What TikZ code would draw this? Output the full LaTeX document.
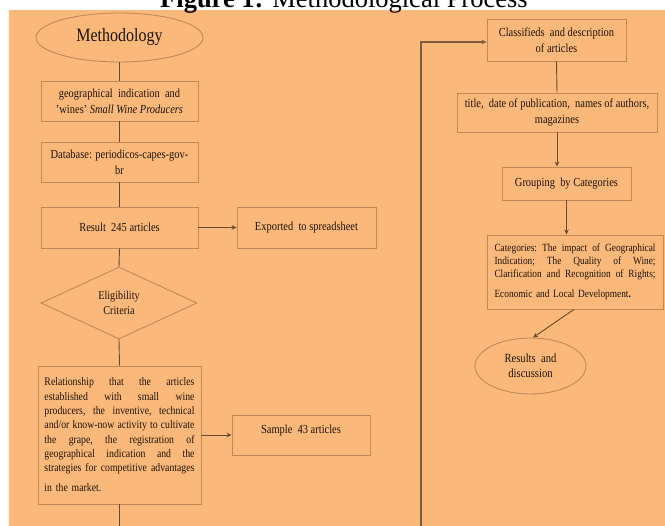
\documentclass[tikz,border=0pt]{standalone}
\usepackage{fontspec}
\setmainfont{Liberation Serif}[FakeStretch=0.85]
\newfontfamily\titlefont{Liberation Serif}
\usetikzlibrary{shapes.geometric,arrows.meta,calc}
\definecolor{bgorange}{RGB}{250,184,122}
\definecolor{boxline}{RGB}{192,138,88}
\definecolor{conn}{RGB}{105,76,48}
\definecolor{txt}{RGB}{30,20,12}
\newcommand{\jl}[2]{\leavevmode\hbox to #1{#2}}
\newcommand{\wsp}{\hfill}
\tikzset{
  boxnode/.style={draw=boxline, line width=0.9pt, rectangle, inner sep=0pt, align=center, text=txt,
    font=\fontsize{12.3}{16}\selectfont},
  ellnode/.style={draw=boxline, line width=0.9pt, ellipse, inner sep=0pt, align=center, text=txt},
  dianode/.style={draw=boxline, line width=0.9pt, diamond, aspect=2.17, inner sep=0pt, align=center, text=txt,
    font=\fontsize{12}{15}\selectfont},
  link/.style={draw=conn, line width=0.9pt},
  arr/.style={draw=conn, line width=0.9pt, -{Stealth[length=5pt,width=4.5pt]}},
}
\begin{document}
\begin{tikzpicture}[x=1pt,y=-1pt]
\useasboundingbox (0,0) rectangle (665,526);
\fill[white] (0,0) rectangle (665,526);
\fill[bgorange] (9,10) rectangle (665,526);
\node[anchor=base west, font=\titlefont\fontsize{26.5}{30}\selectfont, inner sep=0pt] (title) at (160,8)
  {\textbf{Figure 1:} Methodological Process};
% left column
\node[ellnode, minimum width=167pt, minimum height=49pt, font=\fontsize{18.8}{22}\selectfont] (meth) at (119.5,37.5) {Methodology};
\node[boxnode, minimum width=157pt, minimum height=40pt] (b1) at (119.5,101)
  {geographical\ \ indication\ \ and\\ 'wines' \textit{Small Wine Producers}};
\node[boxnode, minimum width=157pt, minimum height=40pt] (b2) at (119.5,162)
  {Database: periodicos-capes-gov-\\ br};
\node[boxnode, minimum width=157pt, minimum height=41pt] (b3) at (119.5,227.5) {Result\ \ 245 articles};
\node[boxnode, minimum width=139pt, minimum height=41pt] (b4) at (306.5,227.5) {Exported\ \ to\ spreadsheet};
\node[dianode, minimum width=156pt, minimum height=72pt] (dia) at (119,303) {Eligibility\\ Criteria};
\node[boxnode, minimum width=163pt, minimum height=138pt, align=left, text width=150pt,
  font=\fontsize{11.5}{14.3}\selectfont] (b5) at (119.5,435)
  {\jl{150pt}{Relationship\wsp that\wsp the\wsp articles}\\
   \jl{150pt}{established\wsp with\wsp small\wsp wine}\\
   \jl{150pt}{producers,\wsp the\wsp inventive,\wsp technical}\\
   \jl{150pt}{and/or\wsp know-now\wsp activity\wsp to\wsp cultivate}\\
   \jl{150pt}{the\wsp grape,\wsp the\wsp registration\wsp of}\\
   \jl{150pt}{geographical\wsp indication\wsp and\wsp the}\\
   \jl{150pt}{strategies\wsp for\wsp competitive\wsp advantages}\\[6pt]
   in the market.};
\node[boxnode, minimum width=138pt, minimum height=40pt, text height=9pt, text depth=11pt] (b6) at (301,435)
  {Sample\ \ 43 articles};
% right column
\node[boxnode, minimum width=139pt, minimum height=42pt] (cls) at (556.5,40)
  {Classifieds\ \ and description\\ of articles};
\node[boxnode, minimum width=200pt, minimum height=39pt] (ttl) at (557,112.5)
  {title,\ \ date of publication,\ \ names\ of authors,\\ magazines};
\node[boxnode, minimum width=129pt, minimum height=33pt] (grp) at (566.5,183.5)
  {Grouping\ \ by Categories};
\node[boxnode, minimum width=176pt, minimum height=74pt, align=left, text width=161pt,
  font=\fontsize{11}{13}\selectfont] (cat) at (575,272)
  {\jl{161pt}{Categories:\wsp The\wsp impact\wsp of\wsp Geographical}\\
   \jl{161pt}{Indication;\wsp The\wsp Quality\wsp of\wsp Wine;}\\
   \jl{161pt}{Clarification\wsp and\wsp Recognition\wsp of\wsp Rights;}\\[7pt]
   Economic and Local Development\textbf{.}};
\node[ellnode, minimum width=111pt, minimum height=56pt, font=\fontsize{12.5}{15}\selectfont] (res) at (530.5,366)
  {Results\ \ and\\ discussion};
% off-page ends
\coordinate (offL) at (119.5,526);
\coordinate (offR) at (421,526);
% connectors
\draw[link] (meth.south) -- (b1.north);
\draw[link] (b1.south) -- (b2.north);
\draw[link] (b2.south) -- (b3.north);
\draw[arr] (b3.east) -- (b4.west);
\draw[link] (b3.south) -- (dia.north);
\draw[link] (dia.south) -- (b5.north);
\draw[arr] (b5.east) -- (b6.west);
\draw[link] (b5.south) -- (offL);
\draw[draw=conn!85!bgorange, line width=1.5pt, -{Stealth[length=5pt,width=4.5pt]}] (offR) |- ($(cls.west)+(0,2)$);
\draw[link] (cls.south) -- (ttl.north);
\draw[arr] (ttl.south) -- (ttl.south |- grp.north);
\draw[arr] (grp.south) -- (grp.south |- cat.north);
\draw[arr] ($(cat.south)+(-1,0)$) -- ($(res.north)+(2.5,0)$);
\end{tikzpicture}
\end{document}
